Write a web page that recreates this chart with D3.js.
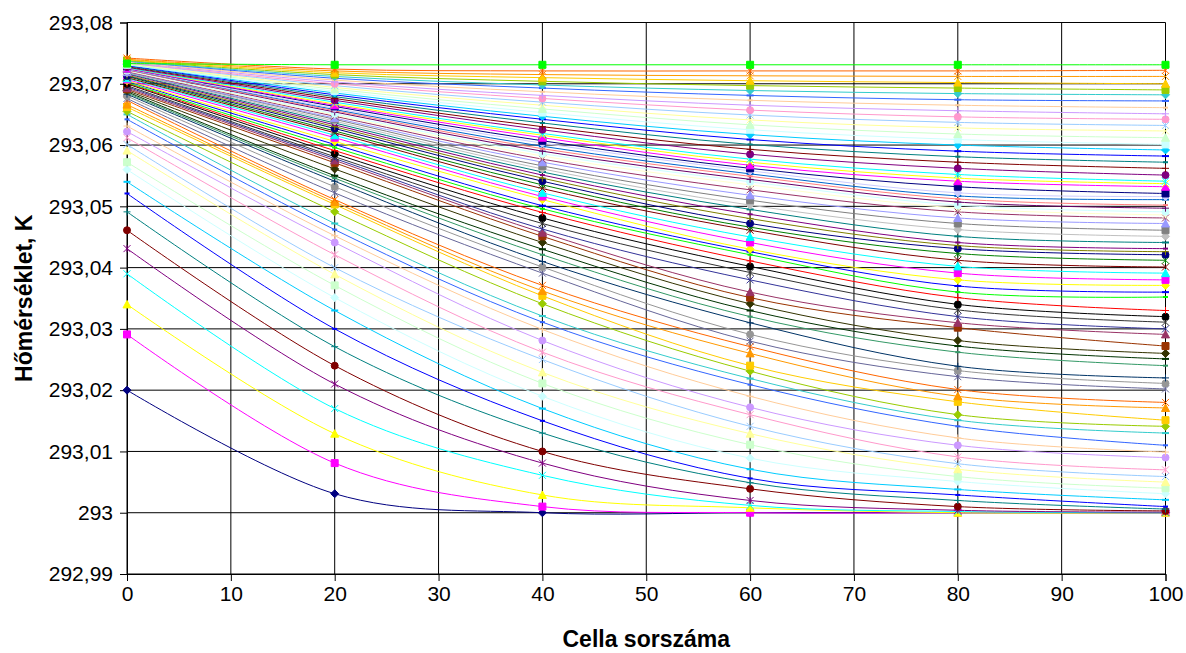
<!DOCTYPE html>
<html>
<head>
<meta charset="utf-8">
<script src="https://cdn.jsdelivr.net/npm/d3@7"></script>
<style>
  body { margin: 0; background: #fff; }
  svg text { font-family: "Liberation Sans", Arial, sans-serif; fill: #000; }
</style>
</head>
<body>
<svg id="chart" width="1186" height="653"></svg>
<script>
// Cell positions where temperatures were sampled
const cellNumbers = [0, 20, 40, 60, 80, 100];

// Temperature (K) of each time step, one array per sampled cell; index = time step
const tempAtCell0 = [
  293.0200,293.0291,293.0340,293.0390,293.0431,293.0461,293.0491,293.0521,293.0540,293.0560,
  293.0572,293.0591,293.0601,293.0612,293.0622,293.0631,293.0642,293.0650,293.0655,293.0662,
  293.0666,293.0673,293.0676,293.0680,293.0683,293.0685,293.0687,293.0689,293.0691,293.0693,
  293.0695,293.0697,293.0700,293.0701,293.0702,293.0704,293.0705,293.0707,293.0709,293.0710,
  293.0712,293.0713,293.0714,293.0716,293.0717,293.0718,293.0719,293.0719,293.0720,293.0721,
  293.0722,293.0723,293.0723,293.0724,293.0724,293.0725,293.0725,293.0726,293.0726,293.0727,
  293.0728,293.0729,293.0730,293.0731,293.0731,293.0732,293.0733,293.0734,293.0734,293.0735,
  293.0736,293.0737,293.0737,293.0738,293.0739,293.0740,293.0742
];
const tempAtCell20 = [
  293.0031,293.0081,293.0129,293.0170,293.0210,293.0240,293.0271,293.0300,293.0330,293.0351,
  293.0371,293.0389,293.0400,293.0421,293.0441,293.0452,293.0462,293.0472,293.0491,293.0503,
  293.0507,293.0511,293.0522,293.0532,293.0541,293.0546,293.0550,293.0561,293.0571,293.0575,
  293.0578,293.0581,293.0586,293.0591,293.0596,293.0601,293.0606,293.0612,293.0616,293.0620,
  293.0623,293.0627,293.0630,293.0633,293.0636,293.0639,293.0642,293.0644,293.0647,293.0649,
  293.0651,293.0654,293.0656,293.0658,293.0660,293.0663,293.0665,293.0667,293.0670,293.0673,
  293.0676,293.0679,293.0682,293.0685,293.0688,293.0691,293.0694,293.0697,293.0700,293.0703,
  293.0706,293.0709,293.0712,293.0715,293.0718,293.0721,293.0724
];
const tempAtCell40 = [
  293.0000,293.0010,293.0029,293.0061,293.0081,293.0100,293.0130,293.0150,293.0170,293.0190,
  293.0211,293.0229,293.0250,293.0262,293.0281,293.0299,293.0311,293.0321,293.0341,293.0354,
  293.0362,293.0371,293.0391,293.0401,293.0410,293.0421,293.0430,293.0441,293.0451,293.0457,
  293.0463,293.0472,293.0481,293.0490,293.0496,293.0501,293.0511,293.0516,293.0522,293.0529,
  293.0535,293.0541,293.0546,293.0551,293.0556,293.0561,293.0566,293.0572,293.0577,293.0582,
  293.0586,293.0590,293.0594,293.0598,293.0603,293.0607,293.0612,293.0616,293.0619,293.0625,
  293.0630,293.0636,293.0642,293.0647,293.0653,293.0659,293.0665,293.0670,293.0676,293.0681,
  293.0687,293.0693,293.0698,293.0704,293.0710,293.0715,293.0721
];
const tempAtCell60 = [
  293.0000,293.0000,293.0008,293.0012,293.0020,293.0039,293.0049,293.0056,293.0071,293.0089,
  293.0111,293.0129,293.0141,293.0160,293.0172,293.0190,293.0209,293.0219,293.0231,293.0240,
  293.0260,293.0271,293.0280,293.0291,293.0310,293.0320,293.0330,293.0341,293.0351,293.0360,
  293.0380,293.0392,293.0402,293.0411,293.0421,293.0426,293.0430,293.0441,293.0450,293.0461,
  293.0466,293.0472,293.0480,293.0487,293.0495,293.0502,293.0510,293.0518,293.0527,293.0535,
  293.0540,293.0544,293.0549,293.0553,293.0558,293.0562,293.0567,293.0572,293.0577,293.0585,
  293.0593,293.0601,293.0609,293.0617,293.0625,293.0633,293.0641,293.0649,293.0657,293.0665,
  293.0673,293.0681,293.0689,293.0697,293.0705,293.0713,293.0721
];
const tempAtCell80 = [
  293.0000,293.0000,293.0000,293.0002,293.0004,293.0010,293.0020,293.0029,293.0038,293.0051,
  293.0059,293.0071,293.0080,293.0091,293.0110,293.0122,293.0141,293.0151,293.0160,293.0181,
  293.0190,293.0201,293.0222,293.0232,293.0239,293.0262,293.0272,293.0281,293.0302,293.0310,
  293.0320,293.0331,293.0340,293.0351,293.0360,293.0370,293.0380,293.0391,293.0402,293.0412,
  293.0423,293.0431,293.0436,293.0441,293.0451,293.0462,293.0472,293.0481,293.0491,293.0497,
  293.0502,293.0507,293.0512,293.0517,293.0522,293.0532,293.0541,293.0546,293.0552,293.0562,
  293.0572,293.0581,293.0590,293.0600,293.0609,293.0618,293.0628,293.0637,293.0646,293.0656,
  293.0665,293.0674,293.0684,293.0693,293.0702,293.0712,293.0721
];
const tempAtCell100 = [
  293.0000,293.0000,293.0000,293.0000,293.0001,293.0003,293.0006,293.0010,293.0021,293.0031,
  293.0040,293.0050,293.0059,293.0070,293.0090,293.0099,293.0110,293.0130,293.0141,293.0151,
  293.0171,293.0180,293.0202,293.0211,293.0220,293.0240,293.0251,293.0260,293.0272,293.0291,
  293.0300,293.0311,293.0320,293.0330,293.0352,293.0360,293.0371,293.0380,293.0391,293.0401,
  293.0412,293.0421,293.0426,293.0431,293.0441,293.0451,293.0461,293.0472,293.0481,293.0486,
  293.0491,293.0497,293.0502,293.0511,293.0516,293.0521,293.0532,293.0537,293.0541,293.0551,
  293.0562,293.0572,293.0582,293.0592,293.0601,293.0612,293.0623,293.0632,293.0642,293.0651,
  293.0661,293.0672,293.0682,293.0690,293.0700,293.0712,293.0722
];
// Final (settled) profile along the cells
const settledProfile = [293.0733, 293.0731, 293.0731, 293.0731, 293.0731, 293.0731];

// Axis ticks
const xTickValues = [0, 10, 20, 30, 40, 50, 60, 70, 80, 90, 100];
const yTickValues = [292.99, 293.00, 293.01, 293.02, 293.03, 293.04, 293.05, 293.06, 293.07, 293.08];
const yTickLabels = ["292,99", "293", "293,01", "293,02", "293,03", "293,04", "293,05", "293,06", "293,07", "293,08"];

// Spreadsheet-style automatic series colours and marker cycle
const seriesPalette = [
  "#000080","#FF00FF","#FFFF00","#00FFFF","#800080","#800000","#008080","#0000FF",
  "#00CCFF","#CCFFFF","#CCFFCC","#FFFF99","#99CCFF","#FF99CC","#CC99FF","#FFCC99",
  "#3366FF","#33CCCC","#99CC00","#FFCC00","#FF9900","#FF6600","#666699","#969696",
  "#003366","#339966","#003300","#333300","#993300","#993366","#333399","#333333",
  "#000000","#FF0000","#00FF00","#0000FF","#FFFF00","#FF00FF","#00FFFF","#800000",
  "#008000","#000080","#808000","#800080","#008080","#C0C0C0","#808080","#9999FF",
  "#993366","#FFFFCC","#CCFFFF","#660066","#FF8080","#0066CC","#CCCCFF"
];
const markerCycle = ["diamond","square","triangle","x","star","circle","plus","dash","longdash"];

const plot = { left: 127, right: 1165.5, top: 22.5, bottom: 574 };

const svg = d3.select("#chart");

const x = d3.scaleLinear().domain([0, 100]).range([plot.left, plot.right]);
const y = d3.scaleLinear().domain([292.99, 293.08]).range([plot.bottom, plot.top]);

// Gridlines
const grid = svg.append("g").attr("stroke", "#000").attr("stroke-width", 1);
grid.selectAll("line.h").data(yTickValues).join("line")
  .attr("class", "h")
  .attr("x1", plot.left).attr("x2", plot.right)
  .attr("y1", d => y(d)).attr("y2", d => y(d));
grid.selectAll("line.v").data(xTickValues).join("line")
  .attr("class", "v")
  .attr("y1", plot.top).attr("y2", plot.bottom)
  .attr("x1", d => x(d)).attr("x2", d => x(d));

// Axes
const yAxis = d3.axisLeft(y).tickValues(yTickValues)
  .tickFormat((d, i) => yTickLabels[i]).tickSize(7).tickPadding(7);
const xAxis = d3.axisBottom(x).tickValues(xTickValues).tickSize(7).tickPadding(5);

const gy = svg.append("g").attr("transform", `translate(${plot.left},0)`).call(yAxis);
const gx = svg.append("g").attr("transform", `translate(0,${plot.bottom})`).call(xAxis);
[gx, gy].forEach(g => {
  g.select(".domain").attr("stroke", "#000");
  g.selectAll(".tick line").attr("stroke", "#000");
  g.selectAll(".tick text").attr("font-size", 21).attr("font-family", "Liberation Sans, Arial, sans-serif").attr("fill", "#000");
});

// Series assembled from the per-cell arrays
const stepCount = tempAtCell0.length;
const cellArrays = [tempAtCell0, tempAtCell20, tempAtCell40, tempAtCell60, tempAtCell80, tempAtCell100];
const series = d3.range(stepCount).map(k => ({
  color: seriesPalette[k % seriesPalette.length],
  marker: markerCycle[k % markerCycle.length],
  points: cellNumbers.map((c, j) => ({ cell: c, t: cellArrays[j][k] }))
}));
series.push({
  color: "#00FF00",
  marker: "square",
  points: cellNumbers.map((c, j) => ({ cell: c, t: settledProfile[j] }))
});

const line = d3.line()
  .x(d => x(d.cell))
  .y(d => y(d.t))
  .curve(d3.curveCatmullRom.alpha(0));

function markerPath(type) {
  const s = 3.5;
  switch (type) {
    case "diamond": return `M0,${-s-0.5}L${s+0.5},0L0,${s+0.5}L${-s-0.5},0Z`;
    case "square": return `M${-s},${-s}H${s}V${s}H${-s}Z`;
    case "triangle": return `M0,${-s-0.5}L${s+0.5},${s}L${-s-0.5},${s}Z`;
    case "x": return `M${-s},${-s}L${s},${s}M${-s},${s}L${s},${-s}`;
    case "star": return `M${-s},${-s}L${s},${s}M${-s},${s}L${s},${-s}M0,${-s}L0,${s}`;
    case "circle": return d3.symbol(d3.symbolCircle, Math.PI * s * s)();
    case "plus": return `M${-s},0L${s},0M0,${-s}L0,${s}`;
    case "dash": return `M-2.5,0L2.5,0`;
    case "longdash": return `M${-s},0L${s},0`;
  }
}
const filledMarkers = new Set(["diamond", "square", "triangle", "circle"]);

const seriesLayer = svg.append("g");
series.forEach(s => {
  const g = seriesLayer.append("g");
  g.append("path")
    .attr("d", line(s.points))
    .attr("fill", "none")
    .attr("stroke", s.color)
    .attr("stroke-width", 1);
  const filled = filledMarkers.has(s.marker);
  g.selectAll("path.m").data(s.points).join("path")
    .attr("class", "m")
    .attr("transform", d => `translate(${x(d.cell)},${y(d.t)})`)
    .attr("d", markerPath(s.marker))
    .attr("fill", filled ? s.color : "none")
    .attr("stroke", s.color)
    .attr("stroke-width", (s.marker === "dash" || s.marker === "longdash") ? 2 : 1);
});

// Axis titles
svg.append("text")
  .attr("x", (plot.left + plot.right) / 2)
  .attr("y", 647)
  .attr("text-anchor", "middle")
  .attr("font-weight", "bold")
  .attr("font-size", 23)
  .text("Cella sorszáma");

svg.append("text")
  .attr("transform", `translate(32,${(plot.top + plot.bottom) / 2}) rotate(-90)`)
  .attr("text-anchor", "middle")
  .attr("font-weight", "bold")
  .attr("font-size", 23)
  .text("Hőmérséklet, K");
</script>
</body>
</html>
